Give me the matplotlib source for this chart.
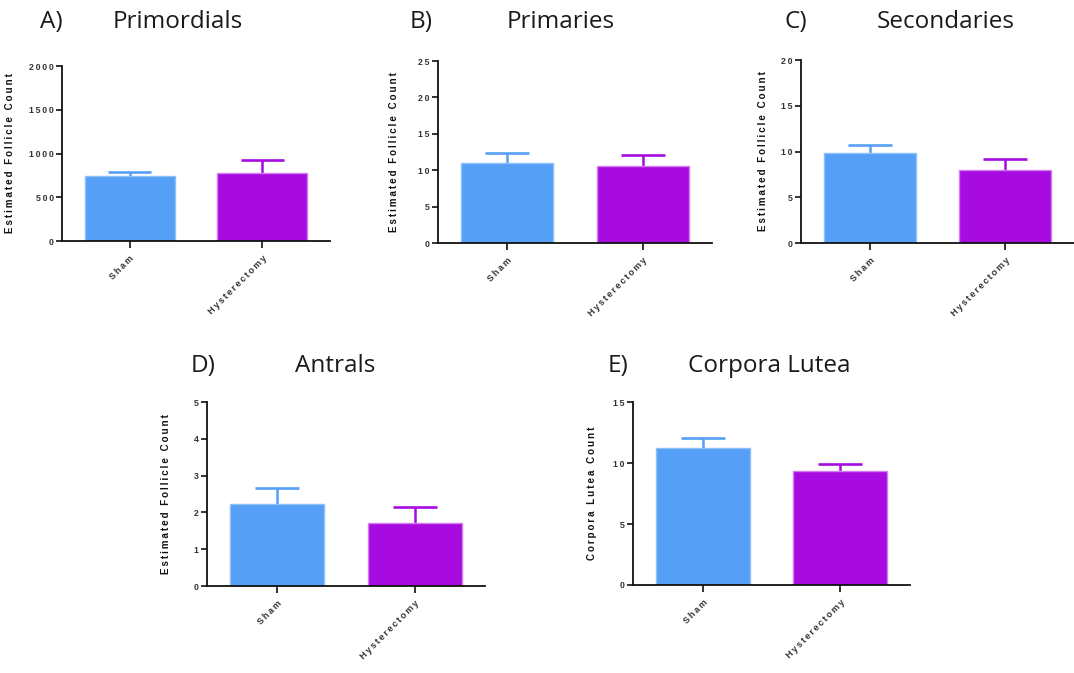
import matplotlib
matplotlib.use("Agg")
import matplotlib.pyplot as plt

# ---- data -------------------------------------------------------------
groups = ["Sham", "Hysterectomy"]

primordial_mean = [743, 774]
primordial_err = [46, 152]

primary_mean = [11.0, 10.6]
primary_err = [1.3, 1.45]

secondary_mean = [9.84, 8.01]
secondary_err = [0.9, 1.2]

antral_mean = [2.24, 1.70]
antral_err = [0.42, 0.46]

cl_mean = [11.24, 9.35]
cl_err = [0.85, 0.55]

panel_letters = ["A)", "B)", "C)", "D)", "E)"]
panel_titles = ["Primordials", "Primaries", "Secondaries", "Antrals", "Corpora Lutea"]
y_labels = ["Estimated Follicle Count"] * 4 + ["Corpora Lutea Count"]
y_ticks = [
    [0, 500, 1000, 1500, 2000],
    [0, 5, 10, 15, 20, 25],
    [0, 5, 10, 15, 20],
    [0, 1, 2, 3, 4, 5],
    [0, 5, 10, 15],
]

# ---- styling ----------------------------------------------------------
W, H = 1074, 673
BAR_COLORS = ["#559ff7", "#a80be0"]
EDGE_COLORS = ["#8cc0fb", "#d27ef0"]
SMALL_FONT = ["Liberation Sans", "DejaVu Sans"]
TITLE_FONT = ["Open Sans", "DejaVu Sans"]
BAR_WIDTH = 0.68
CAP_WIDTH = 0.32


def spaced(s, sep="\u200a"):
    return sep.join(s)


fig = plt.figure(figsize=(W / 100, H / 100), dpi=100)
fig.patch.set_facecolor("white")


def px_axes(left, top, right, bottom):
    return fig.add_axes([left / W, 1 - bottom / H, (right - left) / W, (bottom - top) / H])


# axes boxes in pixels: left, top, right, bottom
boxes = [
    (62, 66, 330, 241),
    (438, 61, 712, 243),
    (801, 60, 1074, 243),
    (207, 402, 485, 586),
    (633, 402, 910, 585),
]
label_offsets = [47, 39, 33, 36, 36]

# title positions: letter x, title x, baseline y
title_pos = [
    (40, 113, 28),
    (410, 507, 28),
    (785, 877, 28),
    (191, 295, 372),
    (608, 688, 372),
]

means = [primordial_mean, primary_mean, secondary_mean, antral_mean, cl_mean]
errs = [primordial_err, primary_err, secondary_err, antral_err, cl_err]

for i in range(5):
    l, t, r, b = boxes[i]
    ax = px_axes(l, t, r, b)
    x = list(range(len(groups)))
    # upper-only SEM whiskers, drawn behind the bars
    for j in x:
        top = means[i][j] + errs[i][j]
        ax.vlines(j, means[i][j], top, color=BAR_COLORS[j], linewidth=1.8, zorder=1)
        ax.hlines(top, j - CAP_WIDTH / 2, j + CAP_WIDTH / 2, color=BAR_COLORS[j],
                  linewidth=1.9, zorder=1)
    ax.bar(x, means[i], width=BAR_WIDTH, color=BAR_COLORS, edgecolor=EDGE_COLORS,
           linewidth=1.0, zorder=2)
    ax.set_xlim(-0.51, 1.51)
    ax.set_ylim(0, y_ticks[i][-1])
    ax.set_yticks(y_ticks[i])
    ax.set_yticklabels([spaced(str(v), "\u2009") for v in y_ticks[i]],
                       fontsize=6.3, fontweight="bold", color="#333333",
                       family=SMALL_FONT)
    ax.set_xticks(x)
    ax.set_xticklabels([spaced(g, "\u2009") for g in groups], rotation=45,
                       ha="right", rotation_mode="anchor", fontsize=6.5,
                       fontweight="bold", color="#333333", family=SMALL_FONT)
    for s in ["top", "right"]:
        ax.spines[s].set_visible(False)
    for s in ["left", "bottom"]:
        ax.spines[s].set_linewidth(1.3)
        ax.spines[s].set_color("#111111")
    ax.tick_params(axis="y", length=4, width=1.2, pad=2, color="#111111")
    ax.tick_params(axis="x", length=5, width=1.2, pad=4, color="#111111")
    ax.set_ylabel(spaced(y_labels[i], "\u2009"), fontsize=7, fontweight="bold",
                  color="#111111", family=SMALL_FONT)
    ax.yaxis.set_label_coords(-label_offsets[i] / (r - l), 0.5)

    lx, tx, by = title_pos[i]
    fig.text(lx / W, 1 - by / H, panel_letters[i], fontsize=17.5,
             family=TITLE_FONT, color="#1a1a1a", va="baseline", ha="left")
    fig.text(tx / W, 1 - by / H, panel_titles[i], fontsize=17.5,
             family=TITLE_FONT, color="#1a1a1a", va="baseline", ha="left")

fig.savefig("out.png", dpi=100, facecolor="white")
